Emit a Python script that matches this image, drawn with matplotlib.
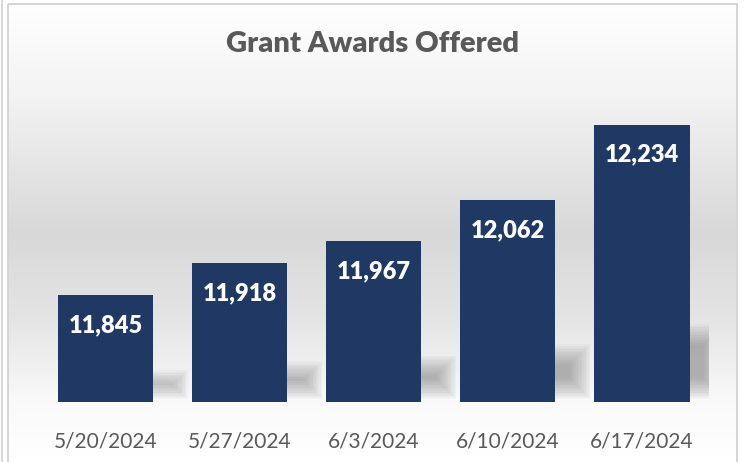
import numpy as np
import matplotlib.pyplot as plt
from matplotlib.colors import LinearSegmentedColormap
from matplotlib.patches import Rectangle

# chart data
dates = ["5/20/2024", "5/27/2024", "6/3/2024", "6/10/2024", "6/17/2024"]
awards = [11845, 11918, 11967, 12062, 12234]

W, H = 744, 462
fig = plt.figure(figsize=(W / 100, H / 100), dpi=100)
fig.patch.set_facecolor("white")

# background panel with the soft vertical gradient
bg = fig.add_axes([0, 0, 1, 1], zorder=0)
bg.set_xlim(0, W)
bg.set_ylim(H, 0)
bg.axis("off")
stops = [(0.0, "#ffffff"), (0.20, "#f3f3f3"), (0.50, "#d8d8d8"),
         (0.68, "#e4e4e4"), (0.80, "#f1f1f1"), (0.87, "#fafafa"), (1.0, "#ffffff")]
cmap = LinearSegmentedColormap.from_list("bg", stops)
grad = np.linspace(0, 1, 256).reshape(-1, 1)
bg.imshow(grad, cmap=cmap, aspect="auto", extent=[8, 737, H, 4], interpolation="bilinear")
bg.add_patch(Rectangle((8, 4), 729, 470, fill=False, ec="#d4d4d4", lw=1.4))
bg.plot([2, 2], [0, H], color="#d0d0d0", lw=1.2)

bg.text(W / 2, 44, "Grant Awards Offered", ha="center", va="center",
        fontsize=21, fontweight="heavy", color="#595959", family="Lato")

ax = fig.add_axes([38.5 / W, 60 / H, 670.5 / W, 350 / H], zorder=1)
ax.patch.set_alpha(0)
ymin, ymax = 11600, 12400
ax.set_xlim(-0.5, len(dates) - 0.5)
ax.set_ylim(ymin, ymax)

x = np.arange(len(dates))
width = 0.71
px_x = 1 / 134.1          # one pixel in x data units
px_y = (ymax - ymin) / 350  # one pixel in y data units

# blurred shadows behind the bars
for xi, v in zip(x, awards):
    h = 0.27 * (v - ymin)
    left = xi - width / 2 + 0.1
    right = xi + width / 2 + 0.26
    bot = ymin + 3 * px_y
    for k in range(14):
        dx, dy = k * 1.6 * px_x, k * 1.6 * px_y
        ax.add_patch(Rectangle((left + dx, bot + dy), right - left - 2 * dx,
                               max(h - 2 * dy, px_y),
                               fc="#7a7a7a", ec="none", alpha=0.05, zorder=1))

bars = ax.bar(x, awards, width=width, color="#1f3864", zorder=3)
for b, v in zip(bars, awards):
    ax.annotate(f"{v:,}", (b.get_x() + b.get_width() / 2, v), xytext=(0, -30),
                textcoords="offset pixels", ha="center", va="center",
                fontsize=17, fontweight="heavy", color="white", family="Lato", zorder=4)

ax.set_xticks(x)
ax.set_xticklabels(dates, fontsize=15, color="#595959", family="Lato")
ax.tick_params(axis="x", length=0, pad=21)
ax.set_yticks([])
for s in ax.spines.values():
    s.set_visible(False)

fig.savefig("out.png", dpi=100)
